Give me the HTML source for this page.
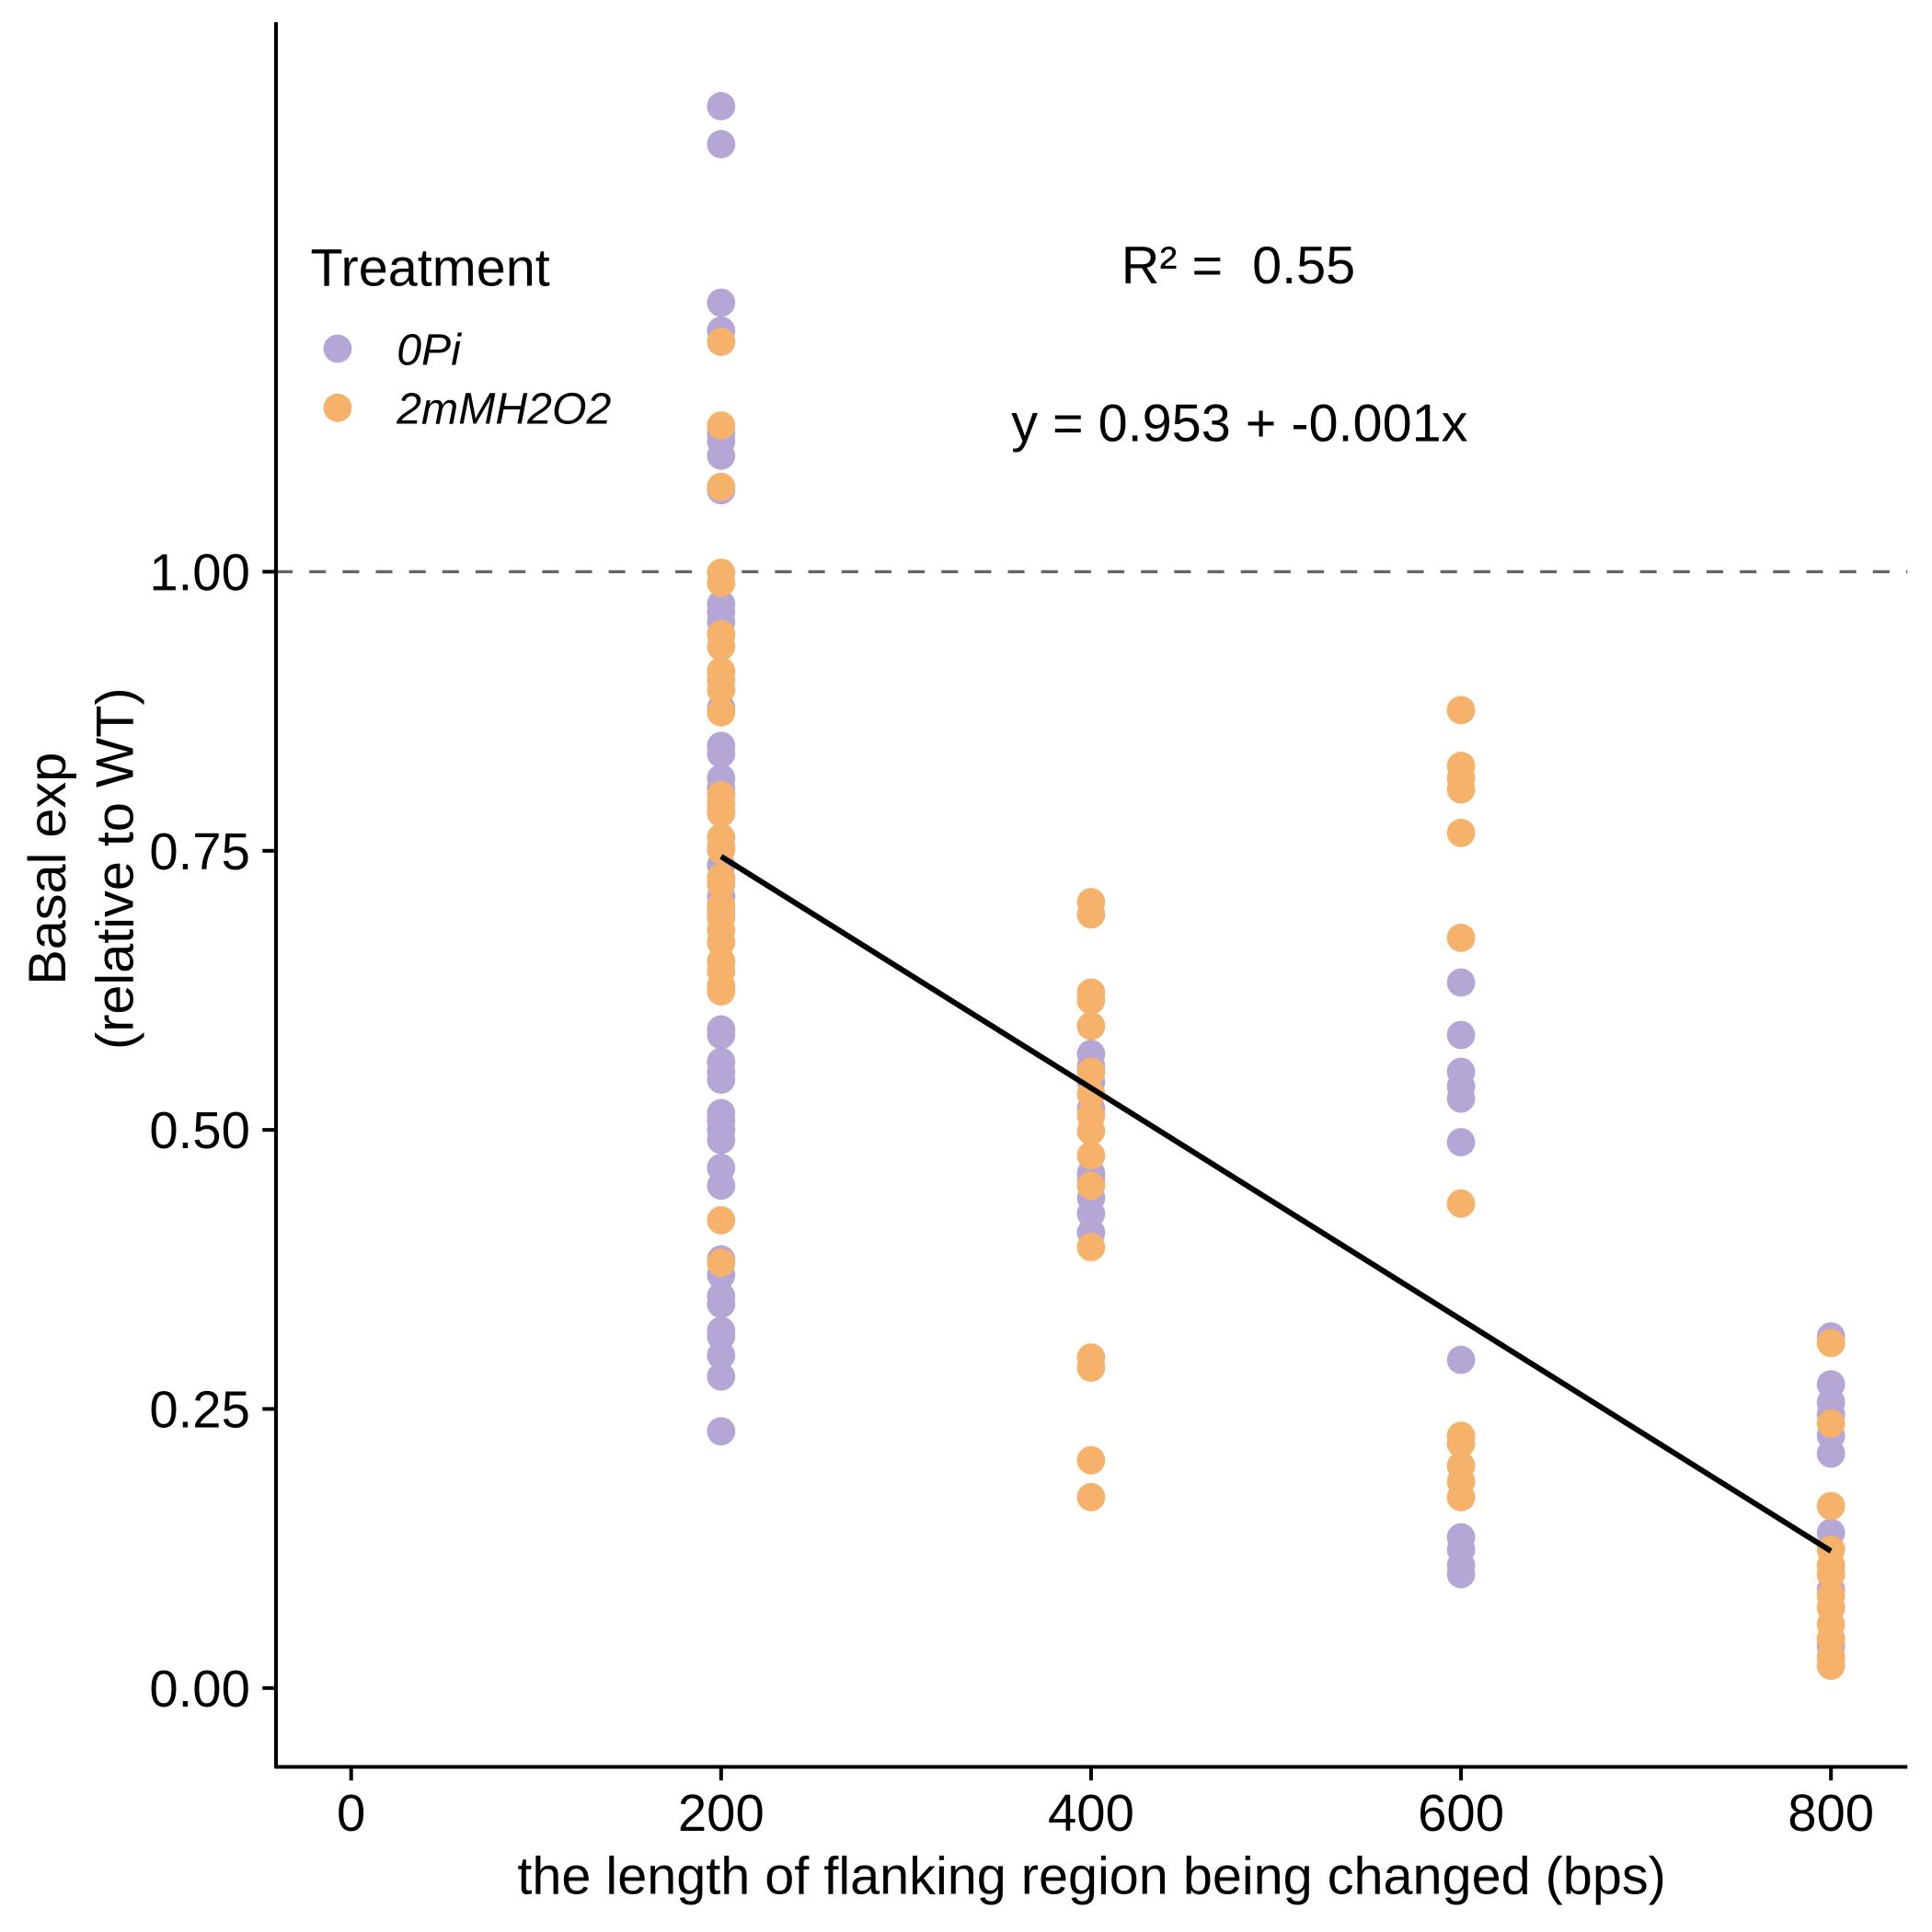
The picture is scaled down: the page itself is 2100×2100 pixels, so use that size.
<!DOCTYPE html>
<html><head><meta charset="utf-8"><style>
html,body{margin:0;padding:0;background:#fff;}
svg{display:block;font-family:"Liberation Sans",Arial,sans-serif;}
</style></head><body>
<svg id="chart" width="2100" height="2100" viewBox="0 0 1568 1568" xmlns="http://www.w3.org/2000/svg">
<g id="marks"></g>
<g id="axes"></g>
</svg>
<script>
const xTicks = [0, 200, 400, 600, 800];
const yTicks = [0, 0.25, 0.5, 0.75, 1.0];
const yTickLabels = ["0.00", "0.25", "0.50", "0.75", "1.00"];
const purpleX200 = [1.417,1.383,1.241,1.216,1.124,1.117,1.104,1.073,0.971,0.964,0.955,0.944,0.878,0.844,0.837,0.815,0.806,0.784,0.753,0.737,0.709,0.695,0.590,0.585,0.561,0.552,0.545,0.515,0.508,0.500,0.491,0.466,0.450,0.384,0.370,0.351,0.344,0.320,0.315,0.298,0.279,0.230];
const orangeX200 = [1.206,1.131,1.076,0.999,0.990,0.944,0.933,0.911,0.903,0.894,0.874,0.800,0.792,0.784,0.762,0.751,0.726,0.720,0.701,0.690,0.679,0.668,0.651,0.642,0.629,0.624,0.419,0.381];
const purpleX400 = [0.568,0.557,0.543,0.519,0.461,0.455,0.439,0.425,0.408];
const orangeX400 = [0.704,0.693,0.623,0.616,0.593,0.552,0.532,0.513,0.499,0.477,0.450,0.395,0.296,0.287,0.204,0.171];
const purpleX600 = [0.632,0.585,0.552,0.539,0.528,0.489,0.294,0.135,0.124,0.110,0.102];
const orangeX600 = [0.876,0.826,0.815,0.805,0.766,0.672,0.434,0.226,0.219,0.199,0.185,0.171];
const purpleX800 = [0.315,0.272,0.256,0.245,0.226,0.210,0.139,0.088,0.044,0.038];
const orangeX800 = [0.309,0.237,0.163,0.124,0.110,0.102,0.083,0.072,0.057,0.044,0.028,0.020];
const fitIntercept = [0.9523];
const fitSlope = [-0.001037];
const fitRange = [200, 800];

const NS = "http://www.w3.org/2000/svg";
function sx(v){ return 285 + v * (1486 - 285) / 800; }
function sy(v){ return 1370 - v * 906; }
function mk(tag, attrs, parent){ const e = document.createElementNS(NS, tag); for (const k in attrs) e.setAttribute(k, attrs[k]); parent.appendChild(e); return e; }
const marks = document.getElementById('marks');
const axes = document.getElementById('axes');

const ref = mk('line', {x1:224, x2:1548, y1:sy(1), y2:sy(1), stroke:'#666', 'stroke-width':2.5, 'stroke-dasharray':'13.5,13.5'}, marks);



function drawPts(arr, x, color, name){
  arr.forEach(function(v){
    const c = mk('circle', {cx:sx(x), cy:sy(v), r:11.5, fill:color}, marks);
    
    
  });
}
const P = '#B4A7D6', O = '#F6B26B';
drawPts(purpleX200, 200, P, 'point-0pi');
drawPts(orangeX200, 200, O, 'point-2mmh2o2');
drawPts(purpleX400, 400, P, 'point-0pi');
drawPts(orangeX400, 400, O, 'point-2mmh2o2');
drawPts(purpleX600, 600, P, 'point-0pi');
drawPts(orangeX600, 600, O, 'point-2mmh2o2');
drawPts(purpleX800, 800, P, 'point-0pi');
drawPts(orangeX800, 800, O, 'point-2mmh2o2');

const fit = mk('line', {x1:sx(fitRange[0]), y1:sy(fitIntercept[0]+fitSlope[0]*fitRange[0]), x2:sx(fitRange[1]), y2:sy(fitIntercept[0]+fitSlope[0]*fitRange[1]), stroke:'#000', 'stroke-width':4.5}, marks);



const ya = mk('line', {x1:224, x2:224, y1:18, y2:1435, stroke:'#000', 'stroke-width':3}, axes);


const xa = mk('line', {x1:223, x2:1548, y1:1434, y2:1434, stroke:'#000', 'stroke-width':3}, axes);



yTicks.forEach(function(v, i){
  const t = mk('line', {x1:213, x2:224, y1:sy(v), y2:sy(v), stroke:'#000', 'stroke-width':3}, axes);
  
  
  const l = mk('text', {x:203, y:sy(v)+15, 'text-anchor':'end', 'font-size':42, fill:'#000'}, axes);
  l.textContent = yTickLabels[i];
  
  
});
xTicks.forEach(function(v){
  const t = mk('line', {x1:sx(v), x2:sx(v), y1:1434, y2:1445, stroke:'#000', 'stroke-width':3}, axes);
  
  
  const l = mk('text', {x:sx(v), y:1486, 'text-anchor':'middle', 'font-size':42, fill:'#000'}, axes);
  l.textContent = String(v);
  
  
});
</script>
<script>
(function(){
const svg = document.getElementById('chart');
const NS = "http://www.w3.org/2000/svg";
const html = `
<text x="886" y="1537" text-anchor="middle" font-size="43">the length of flanking region being changed (bps)</text>
<g transform="translate(0,705) rotate(-90)">
<text x="0" y="53" text-anchor="middle" font-size="43">Basal exp</text>
<text x="0" y="108" text-anchor="middle" font-size="43">(relative to WT)</text>
</g>
<text x="1005" y="230" text-anchor="middle" font-size="43" xml:space="preserve">R² =  0.55</text>
<text x="1006" y="358" text-anchor="middle" font-size="43">y = 0.953 + -0.001x</text>
<g>
<text x="252" y="232" font-size="43">Treatment</text>
<circle cx="274" cy="283" r="11.5" fill="#B4A7D6"/>
<text x="322" y="296" font-size="36" font-style="italic">0Pi</text>
<circle cx="274" cy="331" r="11.5" fill="#F6B26B"/>
<text x="322" y="344" font-size="36" font-style="italic">2mMH2O2</text>
</g>`;
const g = document.createElementNS(NS, 'g');


g.innerHTML = html;
svg.appendChild(g);
})();
</script>
</body></html>
